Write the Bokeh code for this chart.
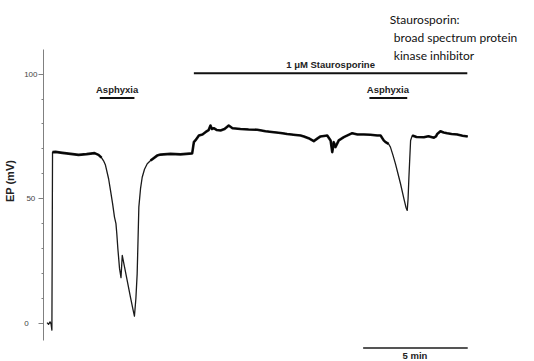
from bokeh.plotting import figure
from bokeh.models import Range1d, FixedTicker
from bokeh.core.properties import value
from bokeh.embed import file_html
from bokeh.resources import INLINE

# Time (min) and endocochlear potential (mV)
time_min = [0.17, 0.24, 0.31, 0.36, 0.40, 0.43, 0.57, 0.90, 1.29, 1.67, 2.05, 2.43,
            2.62, 2.76, 2.86, 2.95, 3.10, 3.19, 3.29, 3.38, 3.45, 3.49, 3.54, 3.62,
            3.69, 3.75, 3.86, 4.00, 4.14, 4.26, 4.33, 4.40, 4.46, 4.50, 4.54, 4.62,
            4.70, 4.81, 4.94, 5.10, 5.41, 5.57, 6.05, 6.52, 7.08, 7.16, 7.24, 7.40,
            7.57, 7.71, 7.86, 7.95, 8.02, 8.11, 8.24, 8.43, 8.62, 8.82, 9.00, 9.38,
            9.76, 10.18, 10.57, 10.97, 11.29, 11.60, 11.90, 12.24, 12.40, 12.62, 12.87,
            13.05, 13.19, 13.51, 13.67, 13.75, 13.82, 13.90, 14.06, 14.30, 14.70, 14.95,
            15.25, 15.57, 15.89, 16.05, 16.20, 16.29, 16.43, 16.52, 16.64, 16.76, 16.88,
            17.00, 17.16, 17.26, 17.32, 17.36, 17.40, 17.44, 17.48, 17.56, 17.76, 18.11,
            18.33, 18.59, 18.69, 18.75, 18.90, 19.05, 19.22, 19.43, 19.70, 19.95, 20.20]
ep_mv = [0.2, -0.5, 0.5, -0.3, -2.8, 68.7, 68.8, 68.4, 68.0, 67.6, 67.9, 68.3,
         67.6, 66.5, 65.2, 63.5, 58.0, 53.3, 48.0, 42.6, 40.0, 36.0, 30.0, 22.0,
         18.3, 27.2, 22.5, 16.5, 10.5, 5.5, 2.8, 10.0, 19.8, 33.0, 46.6, 54.0,
         58.6, 61.8, 64.0, 65.3, 67.3, 67.7, 68.0, 67.8, 68.2, 72.7, 73.5, 75.4,
         75.8, 76.7, 77.5, 79.4, 78.0, 78.3, 77.6, 77.4, 78.0, 79.4, 78.3, 78.0,
         77.8, 77.7, 77.1, 76.7, 76.4, 76.0, 75.7, 75.4, 75.0, 74.3, 73.1,
         74.2, 75.0, 75.4, 73.4, 68.7, 72.7, 70.7, 73.4, 74.7, 76.3, 75.8,
         75.8, 75.7, 75.4, 75.4, 73.4, 72.7, 72.0, 70.7, 67.5, 64.0, 60.0,
         56.0, 50.0, 46.5, 45.3, 50.0, 58.6, 66.0, 73.4, 75.4, 74.8, 74.7,
         75.1, 74.5, 75.0, 76.0, 77.1, 76.6, 76.3, 76.0, 75.8, 75.3, 75.0]

# Event bars (start, end in min) and their labels
event_labels = ["Asphyxia", "1 \u03bcM Staurosporine", "Asphyxia"]
event_start = [2.68, 7.16, 15.52]
event_end = [4.33, 20.18, 17.32]
scale_label = "5 min"
scale_start = [15.22]
scale_end = [20.20]

y_ticks = [0, 50, 100]
y_minor = [10, 20, 30, 40, 60, 70, 80, 90]

note_lines = ["Staurosporin:", "broad spectrum protein", "kinase inhibitor"]

p = figure(width=534, height=361, output_backend="svg", toolbar_location=None,
           x_range=Range1d(0, 23.38), y_range=Range1d(-15.4, 129.6),
           x_axis_type=None, min_border_left=43, min_border_right=0,
           min_border_top=0, min_border_bottom=0)
p.grid.visible = False
p.outline_line_color = None
p.background_fill_color = "white"
p.border_fill_color = "white"

ax = p.yaxis[0]
ax.bounds = (-7, 110)
ax.ticker = FixedTicker(ticks=y_ticks, minor_ticks=y_minor)
ax.major_label_overrides = {0: "0\u00a0\u00a0\u00a0\u00a0", 50: "50\u00a0", 100: "100"}
ax.axis_line_color = "#808080"
ax.major_tick_line_color = "#808080"
ax.minor_tick_line_color = "#808080"
ax.major_tick_in = 0
ax.major_tick_out = 5
ax.minor_tick_in = 0
ax.minor_tick_out = 2
ax.major_label_standoff = 1
ax.major_label_text_font = "Liberation Sans"
ax.major_label_text_font_size = "8px"
ax.major_label_text_color = "#444444"
ax.axis_label = "EP (mV)"
ax.axis_label_text_font = "Liberation Sans"
ax.axis_label_text_font_style = "bold"
ax.axis_label_text_font_size = "11px"
ax.axis_label_text_color = "#222222"
ax.axis_label_standoff = 5

# trace: thin line overall, heavier where the recording is noisy (plateaus)
p.line(time_min, ep_mv, line_color="#1a1a1a", line_width=1.3, line_join="round")
for a, b in [(5, 14), (39, 89), (101, len(time_min))]:
    p.line(time_min[a:b], ep_mv[a:b], line_color="black", line_width=2.6,
           line_join="round", line_alpha=0.9)

# event bars
bar_y = [90.4, 100.4, 90.4]
lab_y = [93.7, 103.9, 93.8]
p.segment(x0=event_start, y0=bar_y, x1=event_end, y1=bar_y, line_color="#111111", line_width=2)
lab_x = [(s + e) / 2 for s, e in zip(event_start, event_end)]
lab_x[1] = 13.67
lab_x[2] = 16.40
p.text(x=lab_x, y=lab_y, text=event_labels, text_font=value("Liberation Sans"),
       text_font_style="bold", text_font_size="9.5px", text_align="center",
       text_baseline="middle", text_color="#222222")

# scale bar
p.segment(x0=scale_start, y0=[-10.0], x1=scale_end, y1=[-10.0], line_color="#555555", line_width=2)
p.text(x=[17.69], y=[-13.0], text=[scale_label], text_font=value("Liberation Sans"),
       text_font_style="bold", text_font_size="9.5px", text_align="center",
       text_baseline="middle", text_color="#222222")

# note
p.text(x=[16.49, 16.68, 16.68], y=[122.0, 114.6, 107.5], text=note_lines,
       text_font=value("Lato"), text_font_size="12px", text_align="left",
       text_baseline="alphabetic", text_color="#111111")

open("out.html", "w").write(file_html(p, INLINE))
